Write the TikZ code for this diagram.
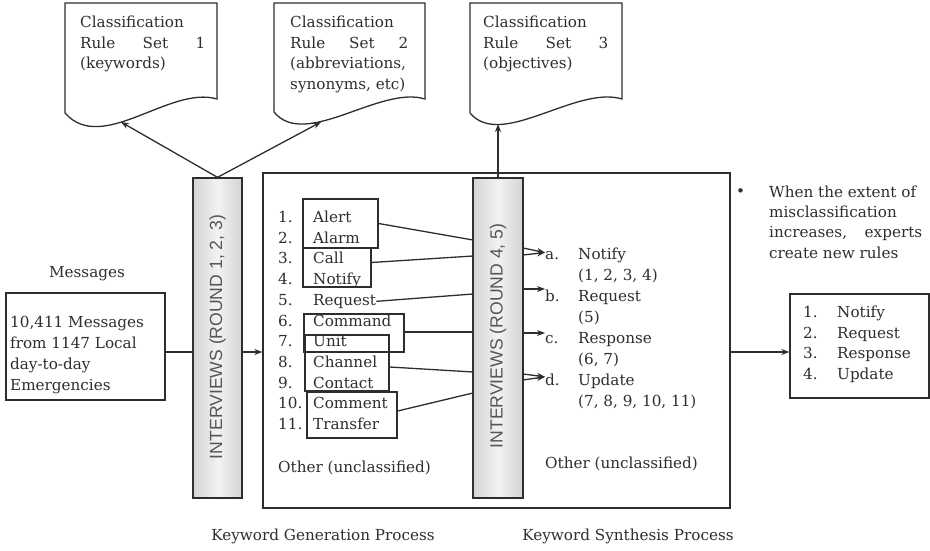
\documentclass[tikz,border=0pt]{standalone}
\usepackage{fontspec}
\setmainfont{DejaVu Serif}
\newfontfamily\barfont{Liberation Sans}
\usetikzlibrary{arrows.meta}
\definecolor{ink}{HTML}{2E2E2E}
\definecolor{barink}{HTML}{555555}
\begin{document}
\begin{tikzpicture}[x=1pt,y=-1pt,
  every node/.style={text=ink, font=\fontsize{15.2}{21}\selectfont},
  lbl/.style={anchor=base west, inner sep=0pt},
  ctr/.style={anchor=base, inner sep=0pt},
  line/.style={draw=ink, line width=1.3pt},
  arr/.style={line, -{Stealth[length=8pt,width=6pt]}},
  box/.style={draw=ink, line width=1.3pt, rectangle, inner sep=0pt},
  grp/.style={draw=ink, line width=1.2pt, rectangle, inner sep=0pt},
  bar/.style={draw=ink, line width=1.3pt, rectangle, inner sep=0pt,
    left color=black!17, right color=black!17, middle color=black!5},
  bartext/.style={rotate=90, inner sep=0pt, text=barink,
    font=\barfont\fontsize{17.6}{20}\selectfont}
]
\fill[white] (0,0) rectangle (930,551);
\useasboundingbox (0,0) rectangle (930,551);

% ---------- rule-set documents ----------
\draw[line, fill=white] (65,113) -- (65,3) -- (217,3) -- (217,99)
  .. controls (170,85) and (102,155) .. (65,113) -- cycle;
\draw[line, fill=white] (274,112) -- (274,3) -- (425,3) -- (425,99)
  .. controls (380,85) and (305,150) .. (274,112) -- cycle;
\draw[line, fill=white] (470,113) -- (470,3) -- (622,3) -- (622,99)
  .. controls (576,85) and (501,150) .. (470,113) -- cycle;
\coordinate (t1) at (121,122);
\coordinate (t2) at (321,122);
\coordinate (t3) at (498,124);

\foreach \t [count=\i from 0] in {Classification, {\makebox[125pt][s]{Rule Set 1}}, (keywords)}
  \node[lbl] (da\i) at (80,{27.5+\i*20.7}) {\t};
\foreach \t [count=\i from 0] in {Classification, {\makebox[118pt][s]{Rule Set 2}}, {(abbreviations,}, {synonyms, etc)}}
  \node[lbl] (db\i) at (290,{27.5+\i*20.7}) {\t};
\foreach \t [count=\i from 0] in {Classification, {\makebox[125pt][s]{Rule Set 3}}, (objectives)}
  \node[lbl] (dc\i) at (483,{27.5+\i*20.7}) {\t};

% ---------- messages ----------
\node[ctr] (msglabel) at (87,277.5) {Messages};
\node[box, minimum width=159, minimum height=107] (msg) at (85.5,346.5) {};
\foreach \t [count=\i from 0] in {{10,411 Messages}, {from 1147 Local}, day-to-day, Emergencies}
  \node[lbl] (m\i) at (10,{327.5+\i*21}) {\t};

% ---------- interview bars and main box ----------
\node[box, minimum width=467, minimum height=335] (big) at (496.5,340.5) {};
\node[bar, minimum width=49, minimum height=320] (ib1) at (217.5,338) {};
\node[bartext] (ib1t) at (217.5,337) {INTERVIEWS (ROUND 1, 2, 3)};
\node[bar, minimum width=50, minimum height=320] (ib2) at (498,338) {};
\node[bartext] (ib2t) at (498,336) {INTERVIEWS (ROUND 4, 5)};

% ---------- result box ----------
\node[box, minimum width=139, minimum height=104] (res) at (859.5,346) {};
\foreach \n/\w [count=\i from 0] in {1./Notify, 2./Request, 3./Response, 4./Update} {
  \node[lbl] (rn\i) at (803,{317.5+\i*20.5}) {\n};
  \node[lbl] (rw\i) at (837,{317.5+\i*20.5}) {\w};
}

% ---------- main flow ----------
\coordinate (msgout) at ([yshift=-5.5pt]msg.east);
\draw[line] (msgout) -- (msgout -| ib1.west);
\draw[arr] (msgout -| ib1.east) -- (msgout -| big.west);
\draw[arr] (msgout -| big.east) -- (msgout -| res.west);
\draw[arr] (ib1.north) -- (t1);
\draw[arr] (ib1.north) -- (t2);
\draw[arr] (ib2.north) -- (t3);

% ---------- keyword list ----------
\foreach \w [count=\k] in {Alert, Alarm, Call, Notify, Request, Command, Unit, Channel, Contact, Comment, Transfer} {
  \node[lbl] (n\k) at (278,{222.5+(\k-1)*20.7}) {\k.};
  \node[lbl] (w\k) at (313,{222.5+(\k-1)*20.7}) {\w};
}
\node[grp, minimum width=75, minimum height=49] (g1) at (340.5,223.5) {};
\node[grp, minimum width=68, minimum height=39] (g2) at (337,267.5) {};
\node[grp, minimum width=100, minimum height=38] (g3) at (354,333) {};
\node[grp, minimum width=84, minimum height=56] (g4) at (347,363) {};
\node[grp, minimum width=90, minimum height=46] (g5) at (352,415) {};

\coordinate (i1) at (473,240);
\coordinate (i2) at (473,256);
\coordinate (i3) at (473,294);
\coordinate (i4) at (473,332);
\coordinate (i5) at (473,372);
\coordinate (i6) at (473,393);
\draw[line] (g1.east) -- (i1);
\draw[line] ([yshift=5pt]g2.east) -- (i2);
\draw[line] (w5.east) -- (i3);
\draw[line] ([yshift=1pt]g3.east) -- (i4);
\draw[line] ([yshift=-4pt]g4.east) -- (i5);
\draw[line] ([yshift=4pt]g5.east) -- (i6);

% ---------- synthesised categories ----------
\foreach \l/\w/\r [count=\i from 0] in {a./Notify/{(1, 2, 3, 4)}, b./Request/(5), c./Response/{(6, 7)}, d./Update/{(7, 8, 9, 10, 11)}} {
  \node[lbl] (l\i) at (545,{259.5+\i*42}) {\l};
  \node[lbl] (c\i) at (578,{259.5+\i*42}) {\w};
  \node[lbl] (p\i) at (578,{280.5+\i*42}) {\r};
}
\coordinate (oa1) at (523,248);
\coordinate (oa2) at (523,255);
\coordinate (ob) at (523,289);
\coordinate (oc) at (523,333);
\coordinate (od1) at (523,374);
\coordinate (od2) at (523,380);
\draw[arr] (oa1) -- ([yshift=3pt]l0.west);
\draw[arr] (oa2) -- ([yshift=3pt]l0.west);
\draw[arr] (ob) -- (l1.west |- ob);
\draw[arr] (oc) -- (l2.west |- oc);
\draw[arr] (od1) -- ([yshift=3pt]l3.west);
\draw[arr] (od2) -- ([yshift=3pt]l3.west);

\node[lbl] (oth1) at (278,472.5) {Other (unclassified)};
\node[lbl] (oth2) at (545,468.5) {Other (unclassified)};

% ---------- note ----------
\node[lbl] (bul) at (736,196) {•};
\foreach \t [count=\i from 0] in {When the extent of, misclassification, {\makebox[153pt][s]{increases, experts}}, create new rules}
  \node[lbl] (note\i) at (769,{197.5+\i*20.2}) {\t};

% ---------- captions ----------
\node[ctr] (cap1) at (323,540) {Keyword Generation Process};
\node[ctr] (cap2) at (628,540) {Keyword Synthesis Process};
\end{tikzpicture}
\end{document}
